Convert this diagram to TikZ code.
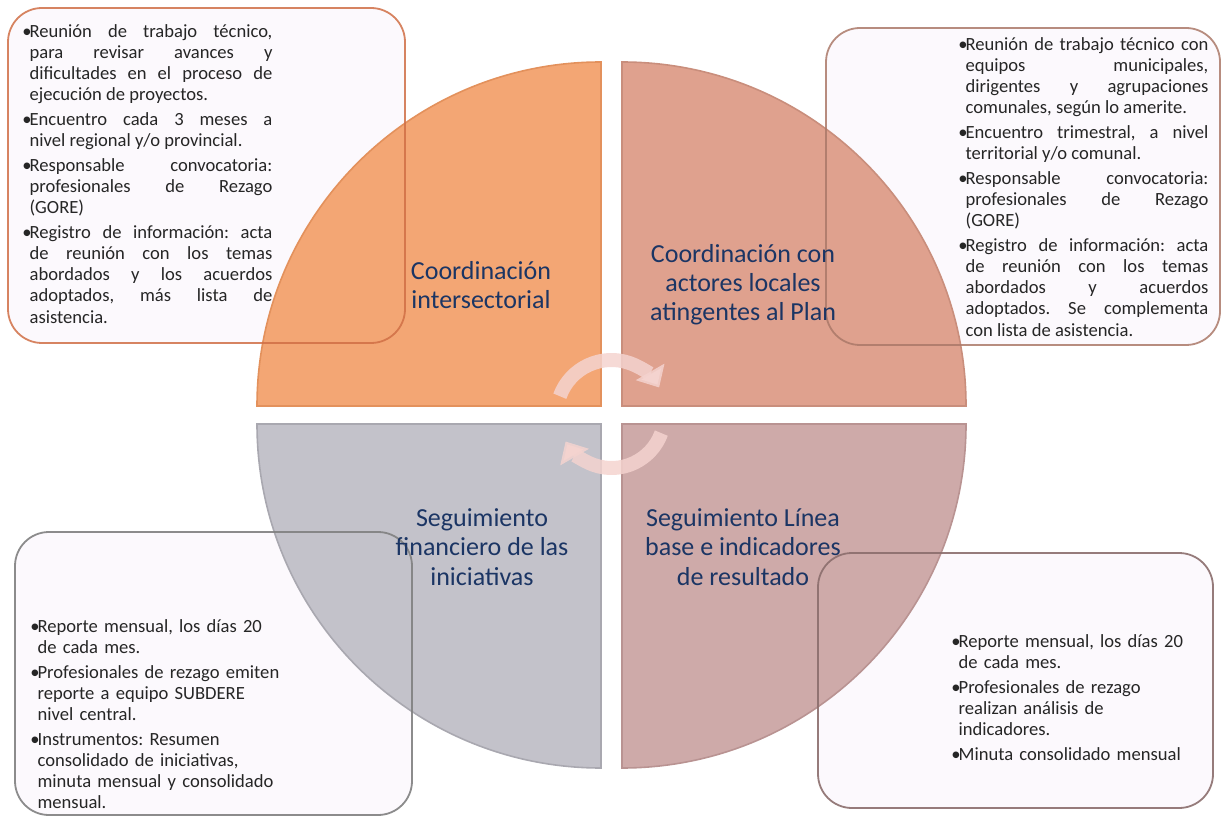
\documentclass[tikz,border=0pt]{standalone}
\usepackage{fontspec}
\setmainfont{Carlito}
\usetikzlibrary{arrows.meta}

\definecolor{qorange}{HTML}{F3A674}
\definecolor{qorangeedge}{HTML}{E3915C}
\definecolor{qsalmon}{HTML}{DFA18E}
\definecolor{qsalmonedge}{HTML}{C98E7C}
\definecolor{qgray}{HTML}{C3C2CA}
\definecolor{qgrayedge}{HTML}{A9A8B0}
\definecolor{qrose}{HTML}{CEAAA9}
\definecolor{qroseedge}{HTML}{B99392}
\definecolor{boxfill}{HTML}{FCF9FD}
\definecolor{navy}{HTML}{1B3564}
\definecolor{bodygray}{HTML}{262626}
\definecolor{arrowpink}{HTML}{F4D3CF}

\newcommand{\bhang}{\hangindent=3.6pt\hangafter=1\noindent\makebox[3.6pt][l]{\textbullet}}
\newcommand{\bitem}{\par\vspace{1.7pt}\bhang}

\tikzset{
    infobox/.style={rounded corners=17pt, line width=0.9pt},
    boxtext/.style={anchor=north west, inner sep=0pt, text=bodygray,
        font=\fontsize{9.3}{10.6}\selectfont\frenchspacing},
    title/.style={align=center, inner sep=0pt, text=navy,
        font=\fontsize{13}{14.6}\selectfont},
    cyclearrow/.style={line width=7pt, draw=arrowpink, draw opacity=0.85,
        -{Triangle[width=16pt,length=9pt]}}
}

\begin{document}
\begin{tikzpicture}[x=0.5pt,y=-0.5pt]
        \useasboundingbox (0,0) rectangle (1224,817);
        % Note boxes (fill)
        \foreach \xa/\ya/\xb/\yb in {8/8/405/343, 826/28/1220/345, 15/532/412/815, 818/553/1213/808} {
                \fill[infobox, boxfill] (\xa,\ya) rectangle (\xb,\yb);
            }
        % Quadrants
        \foreach \cx/\cy/\sx/\a/\b/\col in {601/406/257/180/270/qorange, 622/406/966/0/-90/qsalmon,
                601/424/257/180/90/qgray, 622/424/966/0/90/qrose} {
                \filldraw[fill=\col, draw=\col edge, line width=0.8pt]
                    (\cx,\cy) -- (\sx,\cy) arc[start angle=\a, end angle=\b, radius=344] -- cycle;
            }
        % Note boxes (border)
        \draw[infobox, draw=qorangeedge!85!red!90!black, draw opacity=0.85] (8,8) rectangle (405,343);
        \draw[infobox, draw=qsalmonedge!85!black, draw opacity=0.85] (826,28) rectangle (1220,345);
        \draw[infobox, draw=gray, draw opacity=0.9] (15,532) rectangle (412,815);
        \draw[infobox, draw=qroseedge!75!black, draw opacity=0.9] (818,553) rectangle (1213,808);
        % Cycle arrows
        \coordinate (hub) at (611.5,415);
        \draw[cyclearrow] ([shift={(200:55)}]hub) arc[start angle=200, end angle=330, radius=55];
        \draw[cyclearrow] ([shift={(20:53)}]hub) arc[start angle=20, end angle=150, radius=53];
        % Titles
        \node[title] (intersec) at (481,285) {Coordinación\\intersectorial};
        \node[title] (locales) at (743,285) {Coordinación con\\actores locales\\atingentes al Plan};
        \node[title] (financ) at (482,547) {Seguimiento\\financiero de las\\iniciativas};
        \node[title] (linea) at (743,547) {Seguimiento Línea\\base e indicadores\\de resultado};
        % Notes
        \node[boxtext, text width=125pt, align=justify] (intersecnotes) at (22,24) {%
            \bhang Reunión de trabajo técnico,\linebreak para revisar avances y\linebreak
            dificultades en el proceso de\linebreak ejecución de proyectos.
            \bitem Encuentro cada 3 meses a\linebreak nivel regional y/o provincial.
            \bitem Responsable convocatoria:\linebreak profesionales de Rezago\linebreak (GORE)
            \bitem Registro de información: acta\linebreak de reunión con los temas\linebreak
            abordados y los acuerdos\linebreak adoptados, más lista de\linebreak asistencia.\par};
        \node[boxtext, text width=125pt, align=justify] (localesnotes) at (958,37) {%
            \bhang Reunión de trabajo técnico con\linebreak equipos municipales,\linebreak
            dirigentes y agrupaciones\linebreak comunales, según lo amerite.
            \bitem Encuentro trimestral, a nivel\linebreak territorial y/o comunal.
            \bitem Responsable convocatoria:\linebreak profesionales de Rezago\linebreak (GORE)
            \bitem Registro de información: acta\linebreak de reunión con los temas\linebreak
            abordados y acuerdos\linebreak adoptados. Se complementa\linebreak con lista de asistencia.\par};
        \node[boxtext, text width=135pt, align=left] (financnotes) at (30,619) {%
            \bhang Reporte mensual, los días 20\newline de cada mes.
            \bitem Profesionales de rezago emiten\newline reporte a equipo SUBDERE\newline nivel central.
            \bitem Instrumentos: Resumen\newline consolidado de iniciativas,\newline
            minuta mensual y consolidado\newline mensual.\par};
        \node[boxtext, text width=125pt, align=left] (lineanotes) at (951,634) {%
            \bhang Reporte mensual, los días 20\newline de cada mes.
            \bitem Profesionales de rezago\newline realizan análisis de\newline indicadores.
            \bitem Minuta consolidado mensual\par};
    \end{tikzpicture}
\end{document}
